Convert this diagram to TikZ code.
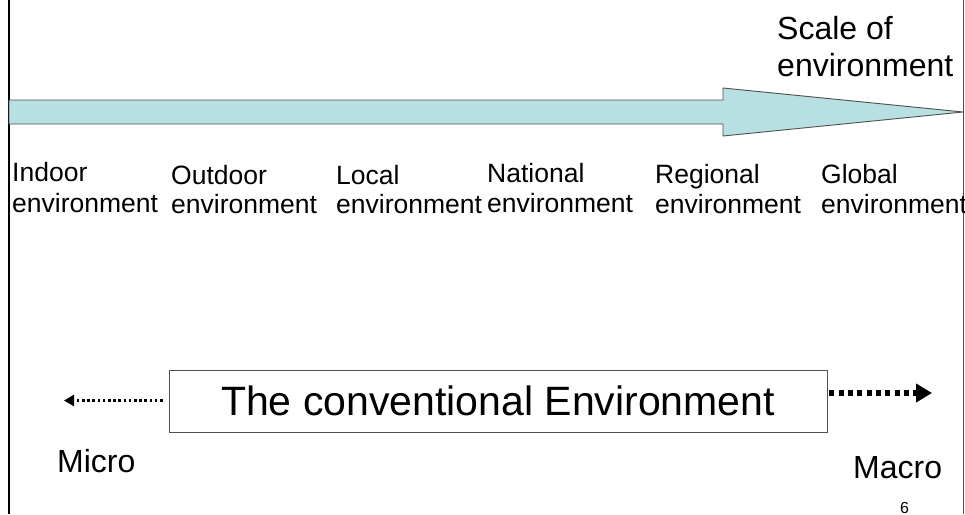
\documentclass[tikz,border=0pt]{standalone}
\usepackage{fontspec}
\setmainfont{Liberation Sans}
\usetikzlibrary{arrows.meta}
\definecolor{arrowfill}{HTML}{B8DFE2}
\definecolor{arrowline}{HTML}{505050}
\newcommand\twoline[3]{\vtop{\baselineskip=#3pt\hbox{#1}\hbox{#2}}}
\begin{document}
\begin{tikzpicture}[x=1pt,y=-1pt,
  lbl/.style={inner sep=0pt,anchor=base west,font=\fontsize{26.5}{30}\selectfont},
  big/.style={inner sep=0pt,anchor=base west,font=\fontsize{32}{37}\selectfont},
  dotsmall/.style={line width=3pt,dash pattern=on 2.6pt off 2.6pt,-{Triangle[length=10pt,width=11pt]}},
  dotbig/.style={line width=5.5pt,dash pattern=on 5pt off 4.3pt,-{Triangle[length=16pt,width=18pt]}}]
\useasboundingbox (0,0) rectangle (965,514);
\fill[white] (0,0) rectangle (965,514);
% frame lines
\draw[line width=2.5pt] (9,0) -- (9,514);
\draw[line width=0.8pt,arrowline] (963.5,0) -- (963.5,514);
% big arrow
\draw[fill=arrowfill,draw=arrowline,line width=0.9pt]
  (9,100) -- (723,100) -- (723,88) -- (963,112) -- (723,136) -- (723,124) -- (9,124) -- cycle;
\node[big] (scale) at (777,39) {\twoline{Scale of}{environment}{37}};
% labels
\node[lbl] (indoor) at (12,181) {\twoline{Indoor}{environment}{31}};
\node[lbl] (outdoor) at (171,184) {\twoline{Outdoor}{environment}{29}};
\node[lbl] (local) at (336,184) {\twoline{Local}{environment}{29}};
\node[lbl] (national) at (487,182) {\twoline{National}{environment}{30}};
\node[lbl] (regional) at (655,183) {\twoline{Regional}{environment}{30}};
\node[lbl] (global) at (821,183) {\twoline{Global}{environment}{30}};
% box
\node[draw=arrowline,line width=0.9pt,minimum width=658pt,minimum height=62pt,inner sep=0pt,
      font=\fontsize{41}{45}\selectfont] (box) at (498,401) {The conventional Environment};
\coordinate (ltip) at (64,400.5);
\coordinate (rtip) at (932,393);
\draw[dotsmall] ([xshift=-6pt,yshift=0.5pt]box.west) -- (ltip);
\draw[dotbig] ([xshift=2pt,yshift=8pt]box.east) -- (rtip);
\node[big] (micro) at (57,472) {Micro};
\node[big] (macro) at (853,478) {Macro};
\node[inner sep=0pt,anchor=base west,font=\fontsize{16}{18}\selectfont] (page) at (900,513) {6};
\end{tikzpicture}
\end{document}
